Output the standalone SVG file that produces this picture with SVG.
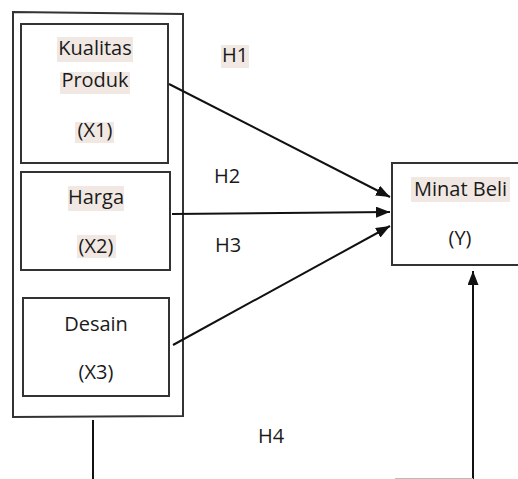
<svg xmlns="http://www.w3.org/2000/svg" width="518" height="479" viewBox="0 0 518 479">
<style>
  .box { fill: none; stroke: #333; stroke-width: 2; }
  .lbl { font-family: "Open Sans", "Liberation Sans", sans-serif; font-size: 20px; fill: #1a1a1a; text-anchor: middle; }
  .hl { fill: #f1e8e3; }
  .con { fill: none; stroke: #111; stroke-width: 2; }
</style>
<defs>
  <marker id="ah" viewBox="0 0 14 11" refX="14" refY="5.5" markerWidth="14" markerHeight="11" markerUnits="userSpaceOnUse" orient="auto">
    <path d="M0,0 L14,5.5 L0,11 Z" fill="#111"/>
  </marker>
</defs>
<rect width="518" height="479" fill="#fff"/>

<g id="outer">
  <polygon class="box" points="13,12 183,14 183,416 13,417"/>
</g>

<g id="x1">
  <rect class="box" x="21" y="24" width="147" height="139"/>
  <rect class="hl" x="57" y="37" width="76" height="25"/>
  <rect class="hl" x="60" y="72" width="70" height="22"/>
  <rect class="hl" x="75" y="122" width="39" height="21"/>
  <text class="lbl" x="95" y="55">Kualitas</text>
  <text class="lbl" x="95" y="87">Produk</text>
  <text class="lbl" x="95" y="137">(X1)</text>
</g>

<g id="x2">
  <rect class="box" x="21" y="172" width="149" height="98"/>
  <rect class="hl" x="68" y="186" width="56" height="25"/>
  <rect class="hl" x="77" y="235" width="39" height="23"/>
  <text class="lbl" x="96" y="204">Harga</text>
  <text class="lbl" x="96" y="253">(X2)</text>
</g>

<g id="x3">
  <rect class="box" x="23" y="298" width="146" height="98"/>
  <text class="lbl" x="96" y="331">Desain</text>
  <text class="lbl" x="96" y="379">(X3)</text>
</g>

<g id="y">
  <path class="box" d="M520,163 L392,163 L392,265 L520,265"/>
  <rect class="hl" x="411" y="177" width="99" height="25"/>
  <text class="lbl" x="460.5" y="196">Minat Beli</text>
  <text class="lbl" x="460" y="245">(Y)</text>
</g>

<g id="connectors">
  <line class="con" x1="169" y1="84" x2="390" y2="197" marker-end="url(#ah)"/>
  <line class="con" x1="172" y1="214" x2="390" y2="212" marker-end="url(#ah)"/>
  <line class="con" x1="173" y1="345" x2="390" y2="226" marker-end="url(#ah)"/>
  <line class="con" x1="93" y1="420" x2="93" y2="479"/>
  <line class="con" x1="473" y1="479" x2="473" y2="271" marker-end="url(#ah)"/>
  <line x1="395" y1="478.5" x2="473" y2="478.5" stroke="#bbb" stroke-width="1"/>
</g>

<g id="labels">
  <rect class="hl" x="221" y="45" width="28" height="23"/>
  <text class="lbl" x="235" y="62">H1</text>
  <text class="lbl" x="227" y="183">H2</text>
  <text class="lbl" x="228" y="252">H3</text>
  <text class="lbl" x="271" y="443">H4</text>
</g>
</svg>
